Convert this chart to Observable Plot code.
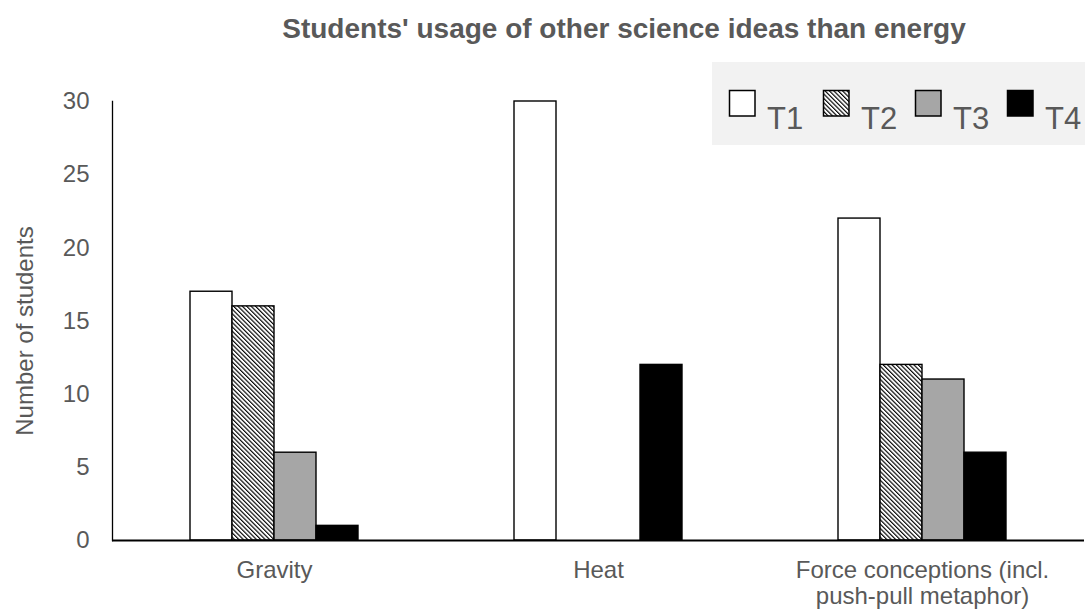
<!DOCTYPE html>
<html>
<head>
<meta charset="utf-8">
<script src="https://cdn.jsdelivr.net/npm/d3@7"></script>
<script src="https://cdn.jsdelivr.net/npm/@observablehq/plot@0.6"></script>
<style>
  html, body { margin: 0; padding: 0; background: #fff; }
  #wrap { position: relative; width: 1085px; height: 610px; overflow: hidden; font-family: "Liberation Sans", Arial, sans-serif; }
  #title { position: absolute; top: 15px; left: 624px; transform: translateX(-50%); white-space: nowrap;
           font: bold 28px "Liberation Sans", Arial, sans-serif; line-height: 28px; color: #595959; }
  #legend { position: absolute; left: 712px; top: 62px; width: 373px; height: 83px; background: #f2f2f2; }
</style>
</head>
<body>
<svg width="0" height="0" style="position:absolute">
  <defs>
    <pattern id="hatch" patternUnits="userSpaceOnUse" width="3.1" height="3.1" patternTransform="rotate(-45)">
      <rect width="3.1" height="3.1" fill="white"></rect>
      <line x1="0.6" y1="0" x2="0.6" y2="3.1" stroke="black" stroke-width="1.15"></line>
    </pattern>
  </defs>
</svg>
<div id="wrap">
  <div id="chart"></div>
  <div id="title"></div>
  <div id="legend"></div>
</div>
<script>
const titleText = "Students' usage of other science ideas than energy";
const yTitle = "Number of students";
const categories = ["Gravity", "Heat", "Force conceptions (incl. push-pull metaphor)"];
const categoryLabels = ["Gravity", "Heat", "Force conceptions (incl.\npush-pull metaphor)"];
const series = ["T1", "T2", "T3", "T4"];
const valuesT1 = [17, 30, 22];
const valuesT2 = [16, 0, 12];
const valuesT3 = [6, 0, 11];
const valuesT4 = [1, 12, 6];
const seriesFills = ["white", "url(#hatch)", "#a6a6a6", "black"];
const yTicks = [0, 5, 10, 15, 20, 25, 30];

const allValues = [valuesT1, valuesT2, valuesT3, valuesT4];
const data = categories.flatMap((c, i) => series.map((s, j) => ({category: c, series: s, value: allValues[j][i]})))
  .filter(d => d.value > 0);

const chart = Plot.plot({
  width: 1085,
  height: 610,
  marginTop: 101,
  marginBottom: 70,
  marginLeft: 111,
  marginRight: 0,
  style: {fontFamily: "'Liberation Sans', Arial, sans-serif", background: "white", overflow: "visible"},
  fx: {domain: categories, padding: 0, label: null},
  x: {domain: series, paddingInner: 0, paddingOuter: 1.775, axis: null},
  y: {domain: [0, 30], axis: null},
  color: {type: "ordinal", domain: series, range: seriesFills},
  marks: [
    Plot.barY(data, {fx: "category", x: "series", y: "value", fill: "series", stroke: "black", strokeWidth: 1.4}),
    Plot.ruleY([0], {stroke: "black", strokeWidth: 2}),
    Plot.frame({anchor: "left", facetAnchor: "left", stroke: "black", strokeWidth: 1.3}),
    Plot.axisY({ticks: yTicks, tickSize: 0, tickPadding: 23, fontSize: 24, fill: "#595959", label: null}),
    Plot.axisFx({anchor: "bottom", tickSize: 0, tickPadding: 19, fontSize: 24, fill: "#595959", label: null,
                 lineHeight: 1.08, tickFormat: d => categoryLabels[categories.indexOf(d)]}),
    Plot.text([yTitle], {text: d => d, frameAnchor: "left", facetAnchor: "left", rotate: -90, textAnchor: "middle",
                 lineAnchor: "middle", dx: -87, dy: 10, fontSize: 24, fill: "#595959"})
  ]
});
document.getElementById("chart").appendChild(chart);
document.getElementById("title").textContent = titleText;

// Legend
const legendX = [17, 111, 203, 295];
const ns = "http://www.w3.org/2000/svg";
const lsvg = document.createElementNS(ns, "svg");
lsvg.setAttribute("width", 373);
lsvg.setAttribute("height", 83);
series.forEach((s, i) => {
  const r = document.createElementNS(ns, "rect");
  r.setAttribute("x", legendX[i] + 0.5);
  r.setAttribute("y", 28.5);
  r.setAttribute("width", 25.5);
  r.setAttribute("height", 25.5);
  r.setAttribute("fill", seriesFills[i]);
  r.setAttribute("stroke", "black");
  r.setAttribute("stroke-width", 1.5);
  lsvg.appendChild(r);
  const t = document.createElementNS(ns, "text");
  t.setAttribute("x", legendX[i] + 38);
  t.setAttribute("y", 67);
  t.setAttribute("font-size", 31);
  t.setAttribute("font-family", "'Liberation Sans', Arial, sans-serif");
  t.setAttribute("fill", "#595959");
  t.textContent = s;
  lsvg.appendChild(t);
});
document.getElementById("legend").appendChild(lsvg);
</script>
</body>
</html>
